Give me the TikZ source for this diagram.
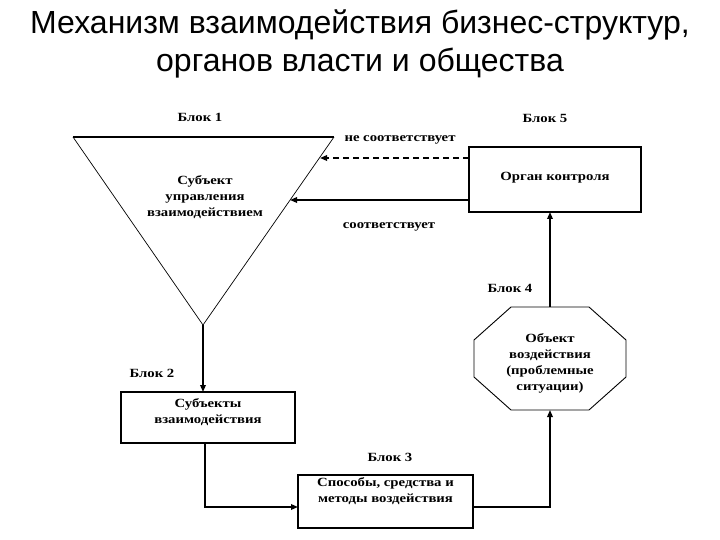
\documentclass[tikz,border=0pt]{standalone}
\usepackage{fontspec}
\setmainfont{Liberation Serif}
\newfontfamily\titlefont{Liberation Sans}
\newfontfamily\wideserif[FakeStretch=1.18]{Liberation Serif}
\usetikzlibrary{arrows.meta,calc}
\begin{document}
\begin{tikzpicture}[x=1pt,y=-1pt,
  every node/.style={inner sep=0pt,outer sep=0pt},
  ttl/.style={font=\titlefont\fontsize{32}{38}\selectfont,anchor=base},
  lbl/.style={font=\wideserif\bfseries\fontsize{12.5}{15}\selectfont},
  txt/.style={font=\wideserif\bfseries\fontsize{12.5}{16}\selectfont,align=center},
  box/.style={draw,line width=1.3pt},
  conn/.style={line width=1.6pt},
  tip/.style={-{Triangle[length=7pt,width=5.5pt]}}]
\useasboundingbox (0,0) rectangle (720,540);
% title
\node[ttl] (t1) at (360,34) {Механизм взаимодействия бизнес-структур,};
\node[ttl] (t2) at (360,72) {органов власти и общества};
% block 1 triangle
\coordinate (tl) at (73,137);
\coordinate (tr) at (334,137);
\coordinate (apex) at (203,325);
\draw[line width=0.7pt] (tl) -- (apex) -- (tr);
\draw[line width=1.6pt] (tl) -- (tr);
\node[txt] (s1) at (205,197) {Субъект\\управления\\взаимодействием};
\node[lbl] (l1) at (200,117) {Блок 1};
% block 5
\node[box,minimum width=172pt,minimum height=65pt] (b5) at (555,179.5) {};
\node[txt] (s5) at (555,178) {Орган контроля};
\node[lbl] (l5) at (545,118) {Блок 5};
% block 4 octagon
\node[minimum width=152pt,minimum height=103pt] (b4) at (550,358.5) {};
\draw[line width=0.9pt]
  ($(b4.north west)+(37,0)$) -- ($(b4.north east)+(-37,0)$) --
  ($(b4.north east)+(0,33)$) -- ($(b4.south east)+(0,-33)$) --
  ($(b4.south east)+(-37,0)$) -- ($(b4.south west)+(37,0)$) --
  ($(b4.south west)+(0,-33)$) -- ($(b4.north west)+(0,33)$) -- cycle;
\node[txt] (s4) at (550,363) {Объект\\воздействия\\(проблемные\\ситуации)};
\node[lbl] (l4) at (510,288) {Блок 4};
% block 2
\node[box,minimum width=174pt,minimum height=51pt] (b2) at (208,417.5) {};
\node[txt] (s2) at (208,412) {Субъекты\\взаимодействия};
\node[lbl] (l2) at (152,373) {Блок 2};
% block 3
\node[box,minimum width=175pt,minimum height=53pt] (b3) at (385.5,501.5) {};
\node[txt] (s3) at (385.5,491) {Способы, средства и\\методы воздействия};
\node[lbl] (l3) at (390,457) {Блок 3};
% connector labels
\node[lbl] (nc) at (400,140) {не соответствует};
\node[lbl] (c) at (389,227) {соответствует};
% connectors
\coordinate (d1) at (320,158);
\coordinate (d2) at (290,200);
\draw[conn,tip,dash pattern=on 6pt off 4pt] (d1 -| b5.west) -- (d1);
\draw[conn,tip] (d2 -| b5.west) -- (d2);
\draw[conn,tip] (apex) -- (b2.north -| apex);
\coordinate (k1) at (205,507);
\draw[conn,tip] (b2.south -| k1) -- (k1) -- (k1 -| b3.west);
\coordinate (k2) at (550,507);
\draw[conn,tip] (k2 -| b3.east) -- (k2) -- (b4.south);
\draw[conn,tip] (b4.north) -- (b5.south -| b4.north);
\end{tikzpicture}
\end{document}
